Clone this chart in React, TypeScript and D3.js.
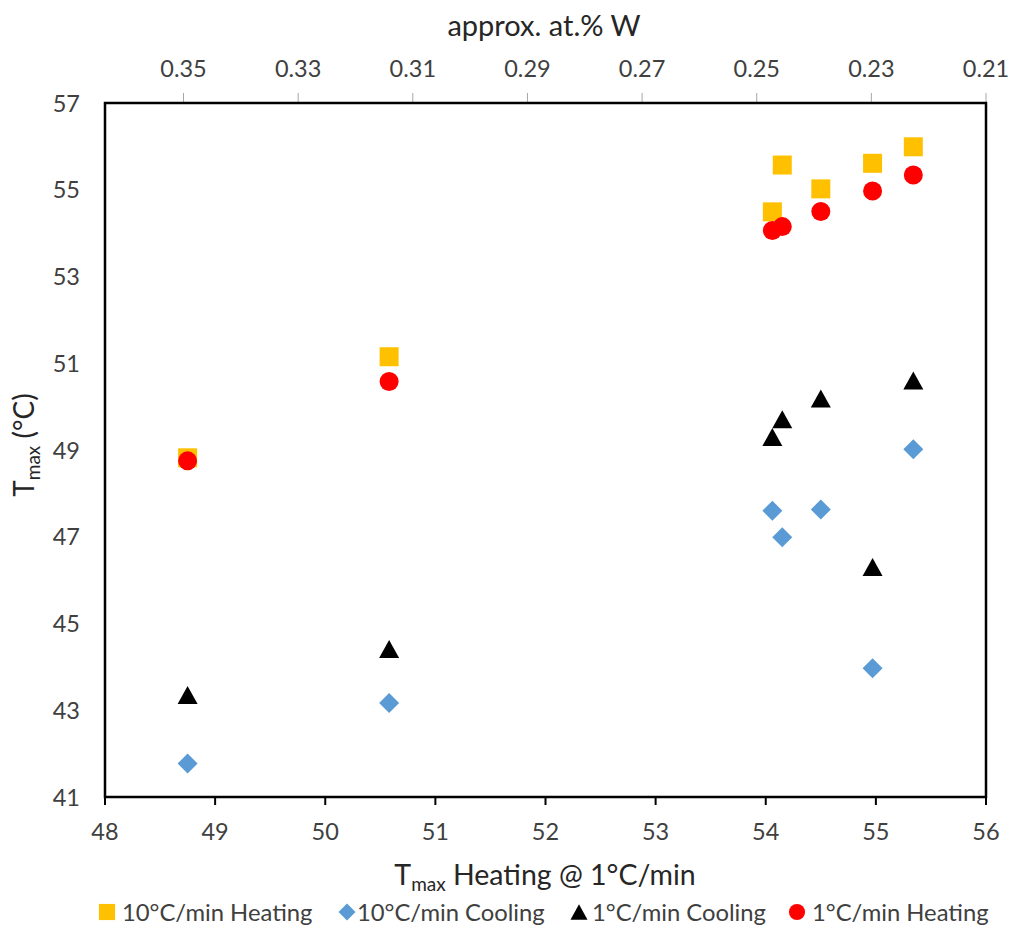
import React from "react";
import * as d3 from "d3";

// ---- data ----
const xHeating1 = [48.75, 50.58, 54.06, 54.15, 54.5, 54.97, 55.34];
const heating10 = [48.82, 51.15, 54.49, 55.57, 55.02, 55.61, 55.99];
const cooling10 = [41.77, 43.17, 47.6, 46.99, 47.63, 43.97, 49.02];
const cooling1 = [43.35, 44.41, 49.3, 49.71, 50.19, 46.3, 50.6];
const heating1 = [48.75, 50.58, 54.06, 54.15, 54.5, 54.97, 55.34];

const xTicks = [48, 49, 50, 51, 52, 53, 54, 55, 56];
const yTicks = [41, 43, 45, 47, 49, 51, 53, 55, 57];
const topTicks = [0.35, 0.33, 0.31, 0.29, 0.27, 0.25, 0.23, 0.21];
const topDomain = [0.3637, 0.21];

const seriesNames = ["10°C/min Heating", "10°C/min Cooling", "1°C/min Cooling", "1°C/min Heating"];
const seriesColors = ["#FFC000", "#5B9BD5", "#000000", "#FF0000"];
const seriesShapes = ["square", "diamond", "triangle", "circle"];
const seriesValues = [heating10, cooling10, cooling1, heating1];

// ---- layout ----
const W = 1011;
const H = 928;
const L = 105, R = 986, T = 103, B = 797;
const FONT = "Lato, 'Open Sans', sans-serif";
const TICK_COLOR = "#404040";
const TITLE_COLOR = "#262626";

function Marker({ shape, color, x, y, s = 1 }: { shape: string; color: string; x: number; y: number; s?: number }) {
  if (shape === "square") {
    const h = 9.5 * s;
    return <rect x={x - h} y={y - h} width={2 * h} height={2 * h} fill={color} />;
  }
  if (shape === "diamond") {
    const h = 10 * s;
    return <polygon points={`${x},${y - h} ${x + h},${y} ${x},${y + h} ${x - h},${y}`} fill={color} />;
  }
  if (shape === "triangle") {
    const w = 10 * s, hh = 9 * s;
    return <polygon points={`${x},${y - hh} ${x + w},${y + hh} ${x - w},${y + hh}`} fill={color} />;
  }
  return <circle cx={x} cy={y} r={9.5 * s} fill={color} />;
}

const legendItems = [
  { sx: 107, tx: 122 },
  { sx: 347, tx: 357 },
  { sx: 579, tx: 592 },
  { sx: 797, tx: 812 },
];

export default function App() {
  const x = d3.scaleLinear().domain([48, 56]).range([L, R]);
  const y = d3.scaleLinear().domain([41, 57]).range([B, T]);
  const xTop = d3.scaleLinear().domain(topDomain).range([L, R]);
  const fmtTop = d3.format(".2f");

  return (
    <svg width={W} height={H} style={{ position: "absolute", left: 0, top: 0, background: "#fff" }} fontFamily={FONT}>
      <rect x={0} y={0} width={W} height={H} fill="#fff" />

      {/* top axis ticks + labels */}
      {topTicks.map((t) => (
        <g key={"tt" + t}>
          <line x1={xTop(t)} x2={xTop(t)} y1={T - 10} y2={T} stroke="#a6a6a6" strokeWidth={1} />
          <text x={xTop(t)} y={77} textAnchor="middle" fontSize={23.5} fill={TICK_COLOR}>
            {fmtTop(t)}
          </text>
        </g>
      ))}

      {/* bottom axis ticks + labels */}
      {xTicks.map((t) => (
        <g key={"xt" + t}>
          <line x1={x(t)} x2={x(t)} y1={B} y2={B + 8} stroke="#000" strokeWidth={2} />
          <text x={x(t)} y={840} textAnchor="middle" fontSize={23.5} fill={TICK_COLOR}>
            {t}
          </text>
        </g>
      ))}

      {/* left axis labels */}
      {yTicks.map((t) => (
        <text key={"yt" + t} x={80} y={y(t) + 8.5} textAnchor="end" fontSize={23.5} fill={TICK_COLOR}>
          {t}
        </text>
      ))}

      {/* frame */}
      <rect x={L} y={T} width={R - L} height={B - T} fill="none" stroke="#000" strokeWidth={2.5} />

      {/* data points */}
      {seriesValues.map((vals, si) => (
        <g key={"s" + si}>
          {vals.map((v, i) => (
            <Marker key={i} shape={seriesShapes[si]} color={seriesColors[si]} x={x(xHeating1[i])} y={y(v)} />
          ))}
        </g>
      ))}

      {/* axis titles */}
      <text x={544} y={36} textAnchor="middle" fontSize={29} fill={TITLE_COLOR}>
        approx. at.% W
      </text>
      <text x={545} y={885} textAnchor="middle" fontSize={28.5} fill={TITLE_COLOR}>
        T<tspan fontSize={19} dy={6}>max</tspan>
        <tspan dy={-6}> Heating @ 1°C/min</tspan>
      </text>
      <text transform="translate(34,445) rotate(-90)" textAnchor="middle" fontSize={28} fill={TITLE_COLOR}>
        T<tspan fontSize={19} dy={6}>max</tspan>
        <tspan dy={-6}> (°C)</tspan>
      </text>

      {/* legend */}
      {seriesNames.map((n, i) => (
        <g key={"lg" + i}>
          <Marker shape={seriesShapes[i]} color={seriesColors[i]} x={legendItems[i].sx} y={912} s={0.85} />
          <text x={legendItems[i].tx} y={921} fontSize={23.8} fill={TICK_COLOR}>
            {n}
          </text>
        </g>
      ))}
    </svg>
  );
}
